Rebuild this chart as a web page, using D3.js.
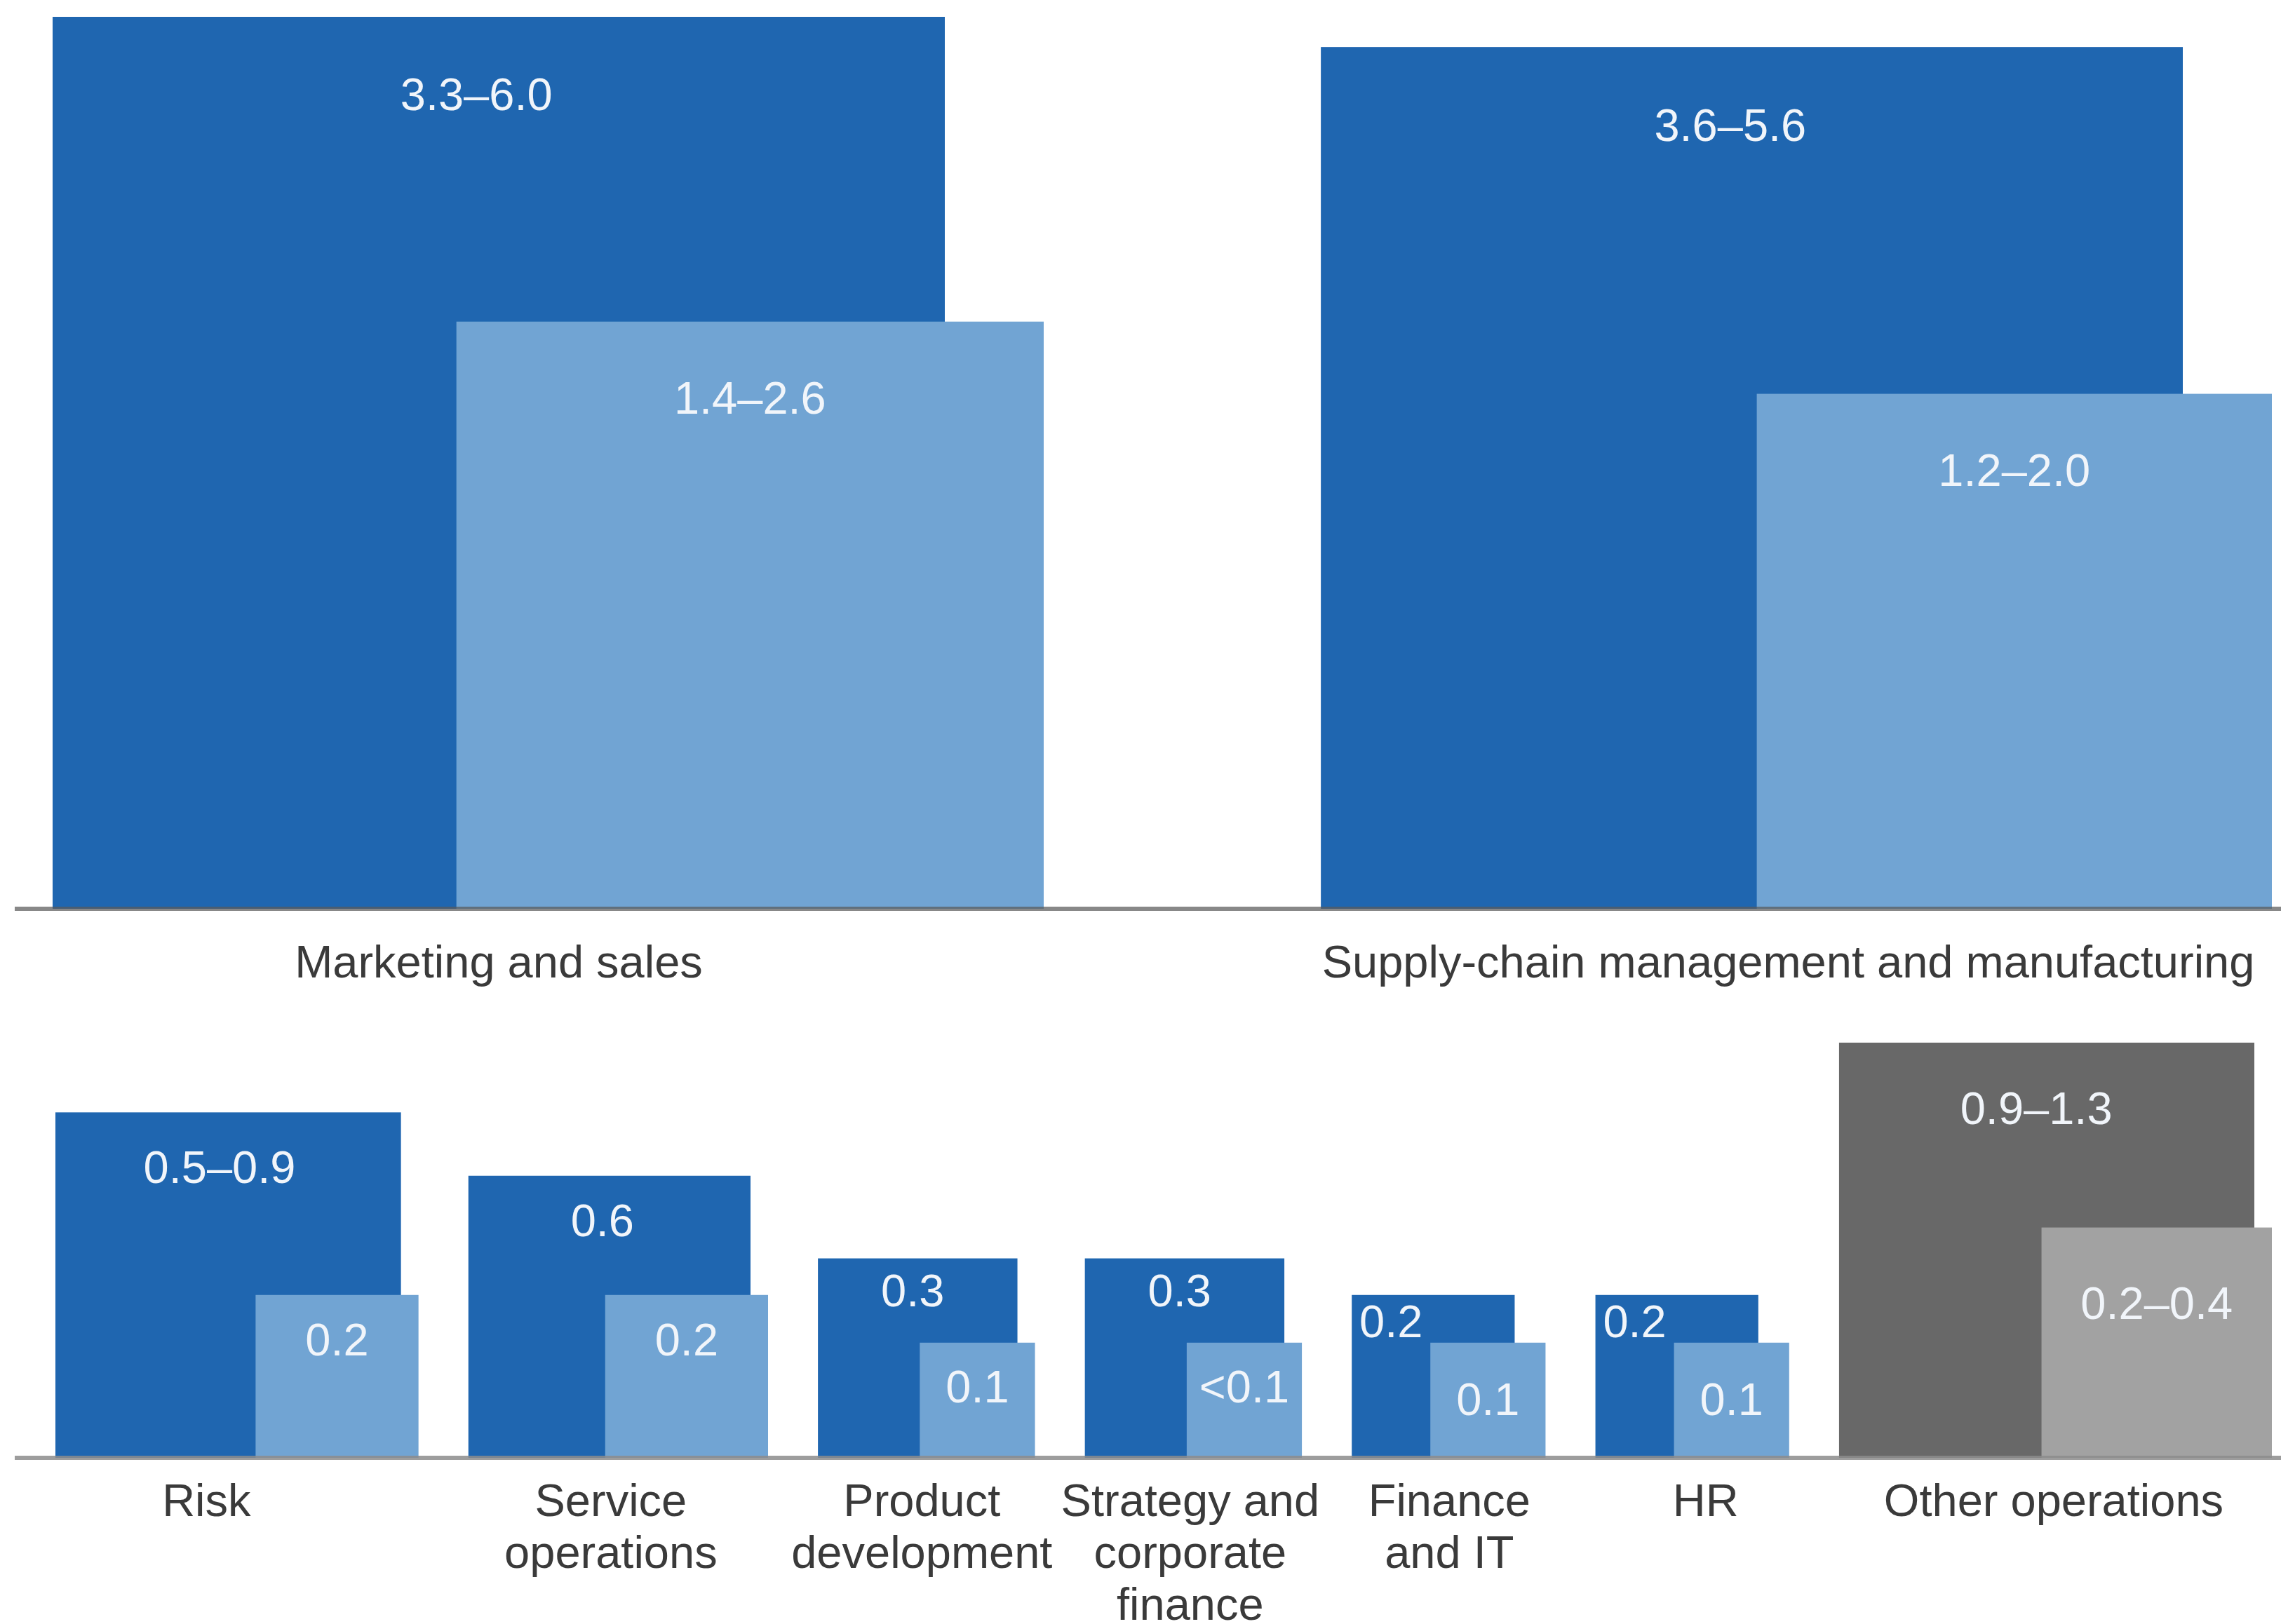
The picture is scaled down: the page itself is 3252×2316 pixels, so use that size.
<!DOCTYPE html>
<html>
<head>
<meta charset="utf-8">
<script src="https://cdn.jsdelivr.net/npm/d3@7"></script>
<style>
  body { margin: 0; background: #fff; }
  text { font-family: "Liberation Sans", Arial, sans-serif; }
</style>
</head>
<body>
<div id="chart-container"></div>
<script>
const topCategories = ["Marketing and sales", "Supply-chain management and manufacturing"];
const topHigh = [6.0, 5.6];
const topHighLabels = ["3.3–6.0", "3.6–5.6"];
const topLow = [2.6, 2.0];
const topLowLabels = ["1.4–2.6", "1.2–2.0"];

const bottomCategories = ["Risk", "Service\noperations", "Product\ndevelopment", "Strategy and\ncorporate\nfinance", "Finance\nand IT", "HR", "Other operations"];
const bottomHigh = [0.9, 0.6, 0.3, 0.3, 0.2, 0.2, 1.3];
const bottomHighLabels = ["0.5–0.9", "0.6", "0.3", "0.3", "0.2", "0.2", "0.9–1.3"];
const bottomLow = [0.2, 0.2, 0.1, 0.1, 0.1, 0.1, 0.4];
const bottomLowLabels = ["0.2", "0.2", "0.1", "<0.1", "0.1", "0.1", "0.2–0.4"];

const width = 3252;
const height = 2316;
const fontSize = 65;
const lineHeight = 74;

const colors = {
  dark: "#1f66b0",
  light: "#71a4d3",
  otherDark: "#686868",
  otherLight: "#a2a2a2"
};

const rows = [
  { cats: topCategories, high: topHigh, highLabels: topHighLabels, low: topLow, lowLabels: topLowLabels,
    left: 75, right: 3239, baseline: 1296, overhang: [141, 127], catShift: [0, 52], catDy: 98,
    axisColor: "rgba(90,90,90,0.72)" },
  { cats: bottomCategories, high: bottomHigh, highLabels: bottomHighLabels, low: bottomLow, lowLabels: bottomLowLabels,
    left: 79, right: 3239, baseline: 2079, overhang: [25, 25, 25, 25, 44, 44, 25], catShift: [-31, 2, 6, 8, 23, 41, 10], catDy: 83,
    axisColor: "rgba(140,140,140,0.85)" }
];

// area of each square is proportional to the upper end of the range
const side = d3.scaleSqrt()
  .domain([0, d3.max(topHigh)])
  .range([0, 1272]);

const darkLabelDy = d3.scaleLinear().domain([0, 700]).range([0, 110]).clamp(true);
const lightLabelDy = d3.scaleLinear().domain([230, 330]).range([62, 108]).clamp(true);

const svg = d3.select("#chart-container")
  .append("svg")
  .attr("width", width)
  .attr("height", height);

rows.forEach(row => {
  const groups = row.cats.map((cat, i) => ({
    cat,
    high: row.high[i],
    low: row.low[i],
    highLabel: row.highLabels[i],
    lowLabel: row.lowLabels[i],
    overhang: row.overhang[i],
    shift: row.catShift[i],
    other: cat === "Other operations"
  }));

  const total = d3.sum(groups, d => side(d.high) + d.overhang);
  const gap = (row.right - row.left - total) / (groups.length - 1);
  let cursor = row.left;
  groups.forEach(d => {
    d.x = cursor;
    d.darkW = side(d.high);
    d.lightW = side(d.low);
    d.lightX = d.x + d.darkW + d.overhang - d.lightW;
    d.tight = d.darkW - d.lightW < 100;
    cursor += d.darkW + d.overhang + gap;
  });

  const g = svg.append("g");

  g.selectAll(".dark")
    .data(groups)
    .join("rect")
    .attr("class", "dark")
    .attr("x", d => d.x)
    .attr("y", d => row.baseline - d.darkW)
    .attr("width", d => d.darkW)
    .attr("height", d => d.darkW)
    .attr("fill", d => d.other ? colors.otherDark : colors.dark);

  g.selectAll(".light")
    .data(groups)
    .join("rect")
    .attr("class", "light")
    .attr("x", d => d.lightX)
    .attr("y", d => row.baseline - d.lightW)
    .attr("width", d => d.lightW)
    .attr("height", d => d.lightW)
    .attr("fill", d => d.other ? colors.otherLight : colors.light);

  g.selectAll(".dark-label")
    .data(groups)
    .join("text")
    .attr("class", "dark-label")
    .attr("x", d => d.tight ? (d.x + d.lightX) / 2 : d.x + d.darkW * 0.475)
    .attr("y", d => row.baseline - d.darkW + darkLabelDy(d.darkW))
    .attr("dy", "0.36em")
    .attr("text-anchor", "middle")
    .style("font-size", fontSize + "px")
    .attr("fill", "#f1f5fa")
    .text(d => d.highLabel);

  g.selectAll(".light-label")
    .data(groups)
    .join("text")
    .attr("class", "light-label")
    .attr("x", d => d.lightX + d.lightW / 2)
    .attr("y", d => row.baseline - d.lightW + lightLabelDy(d.lightW) + (d.tight ? 18 : 0))
    .attr("dy", "0.36em")
    .attr("text-anchor", "middle")
    .style("font-size", fontSize + "px")
    .attr("fill", "#f1f5fa")
    .text(d => d.lowLabel);

  g.append("line")
    .attr("x1", 21)
    .attr("x2", width)
    .attr("y1", row.baseline)
    .attr("y2", row.baseline)
    .attr("stroke", row.axisColor)
    .attr("stroke-width", 6);

  const cat = g.selectAll(".cat-label")
    .data(groups)
    .join("text")
    .attr("class", "cat-label")
    .attr("text-anchor", "middle")
    .style("font-size", fontSize + "px")
    .attr("fill", "#3a3a3a");

  cat.selectAll("tspan")
    .data(d => d.cat.split("\n").map((line, j) => ({ line, j, cx: d.x + d.darkW / 2 + d.shift })))
    .join("tspan")
    .attr("x", t => t.cx)
    .attr("y", t => row.baseline + row.catDy + t.j * lineHeight)
    .text(t => t.line);
});
</script>
</body>
</html>
